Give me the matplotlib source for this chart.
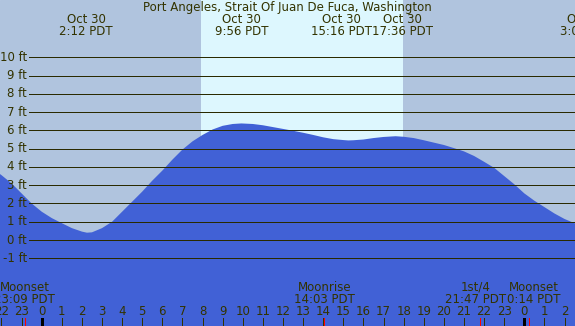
import matplotlib
matplotlib.use("Agg")
import matplotlib.pyplot as plt
import matplotlib.transforms as mtransforms

# ---- data ----
title = "Port Angeles, Strait Of Juan De Fuca, Washington"
# tide heights (ft), hours relative to midnight Oct 30
hours = [-2.5, -2.0, -1.5, -1.0, -0.5, 0.0, 0.5, 1.0, 1.5, 2.0, 2.25, 2.5, 3.0, 3.5, 4.0,
         4.5, 5.0, 5.5, 6.0, 6.5, 7.0, 7.5, 8.0, 8.5, 9.0, 9.5, 9.93, 10.5, 11.0,
         11.5, 12.0, 12.5, 13.0, 13.5, 14.0, 14.5, 15.0, 15.25, 15.5, 16.0, 16.5,
         17.0, 17.6, 18.0, 18.5, 19.0, 19.5, 20.0, 20.5, 21.0, 21.5, 22.0, 22.5,
         23.0, 23.5, 24.0, 24.5, 25.0, 25.5, 26.0, 26.5, 27.0]
heights = [3.95, 3.55, 3.1, 2.55, 2.0, 1.55, 1.2, 0.92, 0.65, 0.46, 0.40, 0.42, 0.65, 1.0, 1.55,
           2.1, 2.65, 3.25, 3.8, 4.4, 4.95, 5.4, 5.75, 6.05, 6.25, 6.35, 6.38, 6.35, 6.28,
           6.18, 6.08, 5.98, 5.87, 5.75, 5.62, 5.52, 5.47, 5.45, 5.46, 5.5, 5.58,
           5.64, 5.68, 5.65, 5.58, 5.46, 5.33, 5.2, 5.03, 4.85, 4.6, 4.28, 3.95,
           3.5, 3.05, 2.55, 2.15, 1.8, 1.45, 1.15, 0.92, 0.75]
y_ticks = [10, 9, 8, 7, 6, 5, 4, 3, 2, 1, 0, -1]
y_labels = ["10 ft", "9 ft", "8 ft", "7 ft", "6 ft", "5 ft", "4 ft", "3 ft", "2 ft", "1 ft", "0 ft", "-1 ft"]
hour_ticks = list(range(-2, 27))
hour_labels = [str(h % 24) for h in hour_ticks]
midnights = [0, 24]
sunrise, sunset = 7.92, 17.97
extreme_times = [2.2, 9.93, 15.27, 17.6, 27.1]
extreme_dates = ["Oct 30", "Oct 30", "Oct 30", "Oct 30", "Oct 31"]
extreme_labels = ["2:12 PDT", "9:56 PDT", "15:16 PDT", "17:36 PDT", "3:06 PDT"]
extreme_text_shift = [0, 0, -7, 7, 0]  # pixel nudges to avoid overlap
moon_times = [-0.85, 14.05, 21.78, 24.23]
moon_names = ["Moonset", "Moonrise", "1st/4", "Moonset"]
moon_labels = ["23:09 PDT", "14:03 PDT", "21:47 PDT", "0:14 PDT"]
moon_text_shift = [0, 0, -4, 5]  # pixel nudges to avoid overlap

# ---- style ----
W, H = 575, 326
night_c = "#B0C4DE"
day_c = "#DDF7FE"
water_c = "#4161D6"
text_c = "#333300"
grid_c = "#2A2A00"

fig = plt.figure(figsize=(W / 100, H / 100), dpi=100)
ax = fig.add_axes([0, 0, 1, 1])
ppx = 20.11   # pixels per hour
x0 = 41.7     # pixel of hour 0
ppf = 18.27   # pixels per ft
y0 = 240.0    # pixel of 0 ft
ax.set_xlim(-x0 / ppx, (W - x0) / ppx)
ax.set_ylim((y0 - H) / ppf, y0 / ppf)
ax.axis("off")
ax.add_patch(plt.Rectangle((0, 0), 1, 1, transform=ax.transAxes, color=night_c, zorder=0))

ax.axvspan(sunrise, sunset, color=day_c, zorder=1, lw=0)
ax.fill_between(hours, heights, -20, color=water_c, zorder=2, lw=0)

fs = 8.5
one_px = 0.72
for v, lab in zip(y_ticks, y_labels):
    ax.axhline(v, xmin=29 / W, xmax=1, color=grid_c, lw=one_px, zorder=3, antialiased=False)
    ax.text(27 / W, v, lab, transform=mtransforms.blended_transform_factory(ax.transAxes, ax.transData),
            ha="right", va="center", fontsize=fs, color=text_c, zorder=4)

tr = mtransforms.blended_transform_factory(ax.transData, fig.transFigure)

def fy(p):
    return 1 - p / H

fig.text(0.5, fy(7.5), title, ha="center", va="center", fontsize=fs, color=text_c)
for t, d, lab, dx in zip(extreme_times, extreme_dates, extreme_labels, extreme_text_shift):
    off = mtransforms.offset_copy(tr, fig=fig, x=dx, y=0, units="dots")
    ax.text(t, fy(19.5), d, transform=off, ha="center", va="center", fontsize=fs, color=text_c, clip_on=False)
    ax.text(t, fy(31.5), lab, transform=off, ha="center", va="center", fontsize=fs, color=text_c, clip_on=False)

# hour ticks
for h, lab in zip(hour_ticks, hour_labels):
    ax.text(h, fy(311.5), lab, transform=tr, ha="center", va="center", fontsize=fs, color=text_c, zorder=5)
    if h in midnights:
        ax.plot([h, h], [fy(318), fy(327)], transform=tr, color="black", lw=3 * one_px, zorder=5,
                solid_capstyle="butt", antialiased=False)
    else:
        ax.plot([h, h], [fy(318), fy(327)], transform=tr, color=text_c, lw=one_px, zorder=5,
                solid_capstyle="butt", antialiased=False)

for t, n, lab, dx in zip(moon_times, moon_names, moon_labels, moon_text_shift):
    ax.plot([t, t], [fy(318), fy(327)], transform=tr, color="red", lw=one_px, zorder=6,
            solid_capstyle="butt", antialiased=False)
    off = mtransforms.offset_copy(tr, fig=fig, x=dx, y=0, units="dots")
    ax.text(t, fy(287.5), n, transform=off, ha="center", va="center", fontsize=fs, color=text_c, zorder=5)
    ax.text(t, fy(299.5), lab, transform=off, ha="center", va="center", fontsize=fs, color=text_c, zorder=5)

fig.savefig("out.png", dpi=100)
